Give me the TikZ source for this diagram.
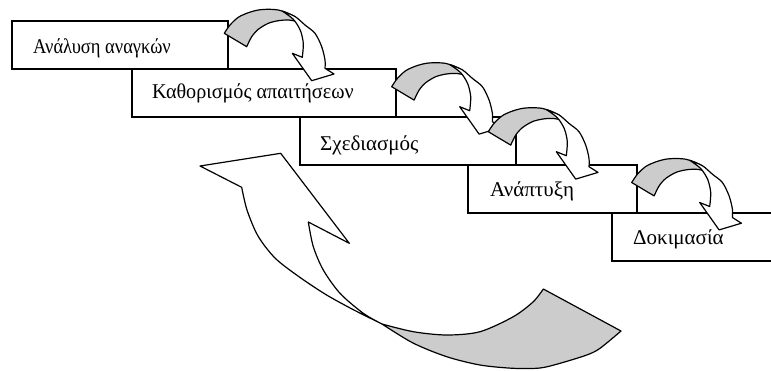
\documentclass[tikz,border=0pt]{standalone}
\usepackage{fontspec}
\setmainfont{Liberation Serif}
\definecolor{grayfill}{gray}{0.8}
\tikzset{
  stepbox/.style={draw=black, line width=1.5bp, fill=white, rectangle, inner sep=0pt, outer sep=0pt},
  lbl/.style={anchor=base west, inner sep=0pt, font=\fontsize{21bp}{25bp}\selectfont},
  arrowline/.style={draw=black, line width=1.2bp, line join=round},
  curvarrow/.pic={
    \filldraw[arrowline, fill=grayfill]
      plot[smooth] coordinates {(0,0) (5.7,-8.3) (14,-16) (24,-20.6) (34,-23.3) (44,-24) (54,-23.3) (62.4,-20.6) (70.7,-16.6)}
      -- (72,-12)
      -- plot[smooth] coordinates {(72,-12) (64,-13.3) (54,-12.6) (44,-10) (34,-4) (27.4,3.4) (22.4,13.4)}
      -- cycle;
    \filldraw[arrowline, fill=white]
      plot[smooth] coordinates {(58,-22.2) (70.7,-16.8) (80.7,-8.3) (90.7,0) (97.4,13.4) (100.7,26.7) (100.7,35)}
      -- (109.7,40.7) -- (87.4,47.4) -- (68,20) -- (78,24)
      -- plot[smooth] coordinates {(78,24) (79,10) (76,-3) (69,-14) (58,-22.2)}
      -- cycle;
  }
}
\begin{document}
\begin{tikzpicture}[x=1bp,y=-1bp]
\useasboundingbox (0,0) rectangle (771,370);
\clip (0,0) rectangle (771,370);
% boxes
\node[stepbox, minimum width=216bp, minimum height=48bp] (b1) at (120,45) {};
\node[stepbox, minimum width=264bp, minimum height=48bp] (b2) at (264,93) {};
\node[stepbox, minimum width=216bp, minimum height=48bp] (b3) at (408,141) {};
\node[stepbox, minimum width=169bp, minimum height=48bp] (b4) at (552.5,189) {};
\node[stepbox, minimum width=200bp, minimum height=48bp] (b5) at (712,237) {};
% labels
\node[lbl] (t1) at (33,53.3) {\scalebox{0.88}[1]{Ανάλυση αναγκών}};
\node[lbl] (t2) at (152,98.8) {\scalebox{0.96}[1]{Καθορισμός απαιτήσεων}};
\node[lbl] (t3) at (320,150.5) {Σχεδιασμός};
\node[lbl] (t4) at (490,196.7) {Ανάπτυξη};
\node[lbl] (t5) at (633,244.3) {Δοκιμασία};
% small curved arrows
\pic at (224.3,33.3) {curvarrow};
\pic at (391.7,86.7) {curvarrow};
\pic at (488.3,131.7) {curvarrow};
\pic at (631.7,182.5) {curvarrow};
% big return arrow
\filldraw[arrowline, fill=white]
  plot[smooth] coordinates {(241.7,187.3) (247,210) (258,236) (275,258) (298,276) (325,294) (352,309) (382,324)}
  -- plot[smooth] coordinates {(382,324) (363.3,313.3) (340,293.3) (323.3,270) (313.3,246.7) (308.3,222)}
  -- (349.3,243.3) -- (280.7,153.3) -- (200,166) -- cycle;
\filldraw[arrowline, fill=grayfill]
  plot[smooth] coordinates {(382,324) (413,343) (446.7,356.7) (480,365) (513.3,368.3) (540,368) (560,363.3) (586.7,355) (600,348.3) (621,331)}
  -- (543.3,289)
  -- plot[smooth] coordinates {(543.3,289) (533.3,301.7) (513.3,316.7) (480,331.7) (446.7,335) (413.3,331.7) (382,324)}
  -- cycle;
\end{tikzpicture}
\end{document}
